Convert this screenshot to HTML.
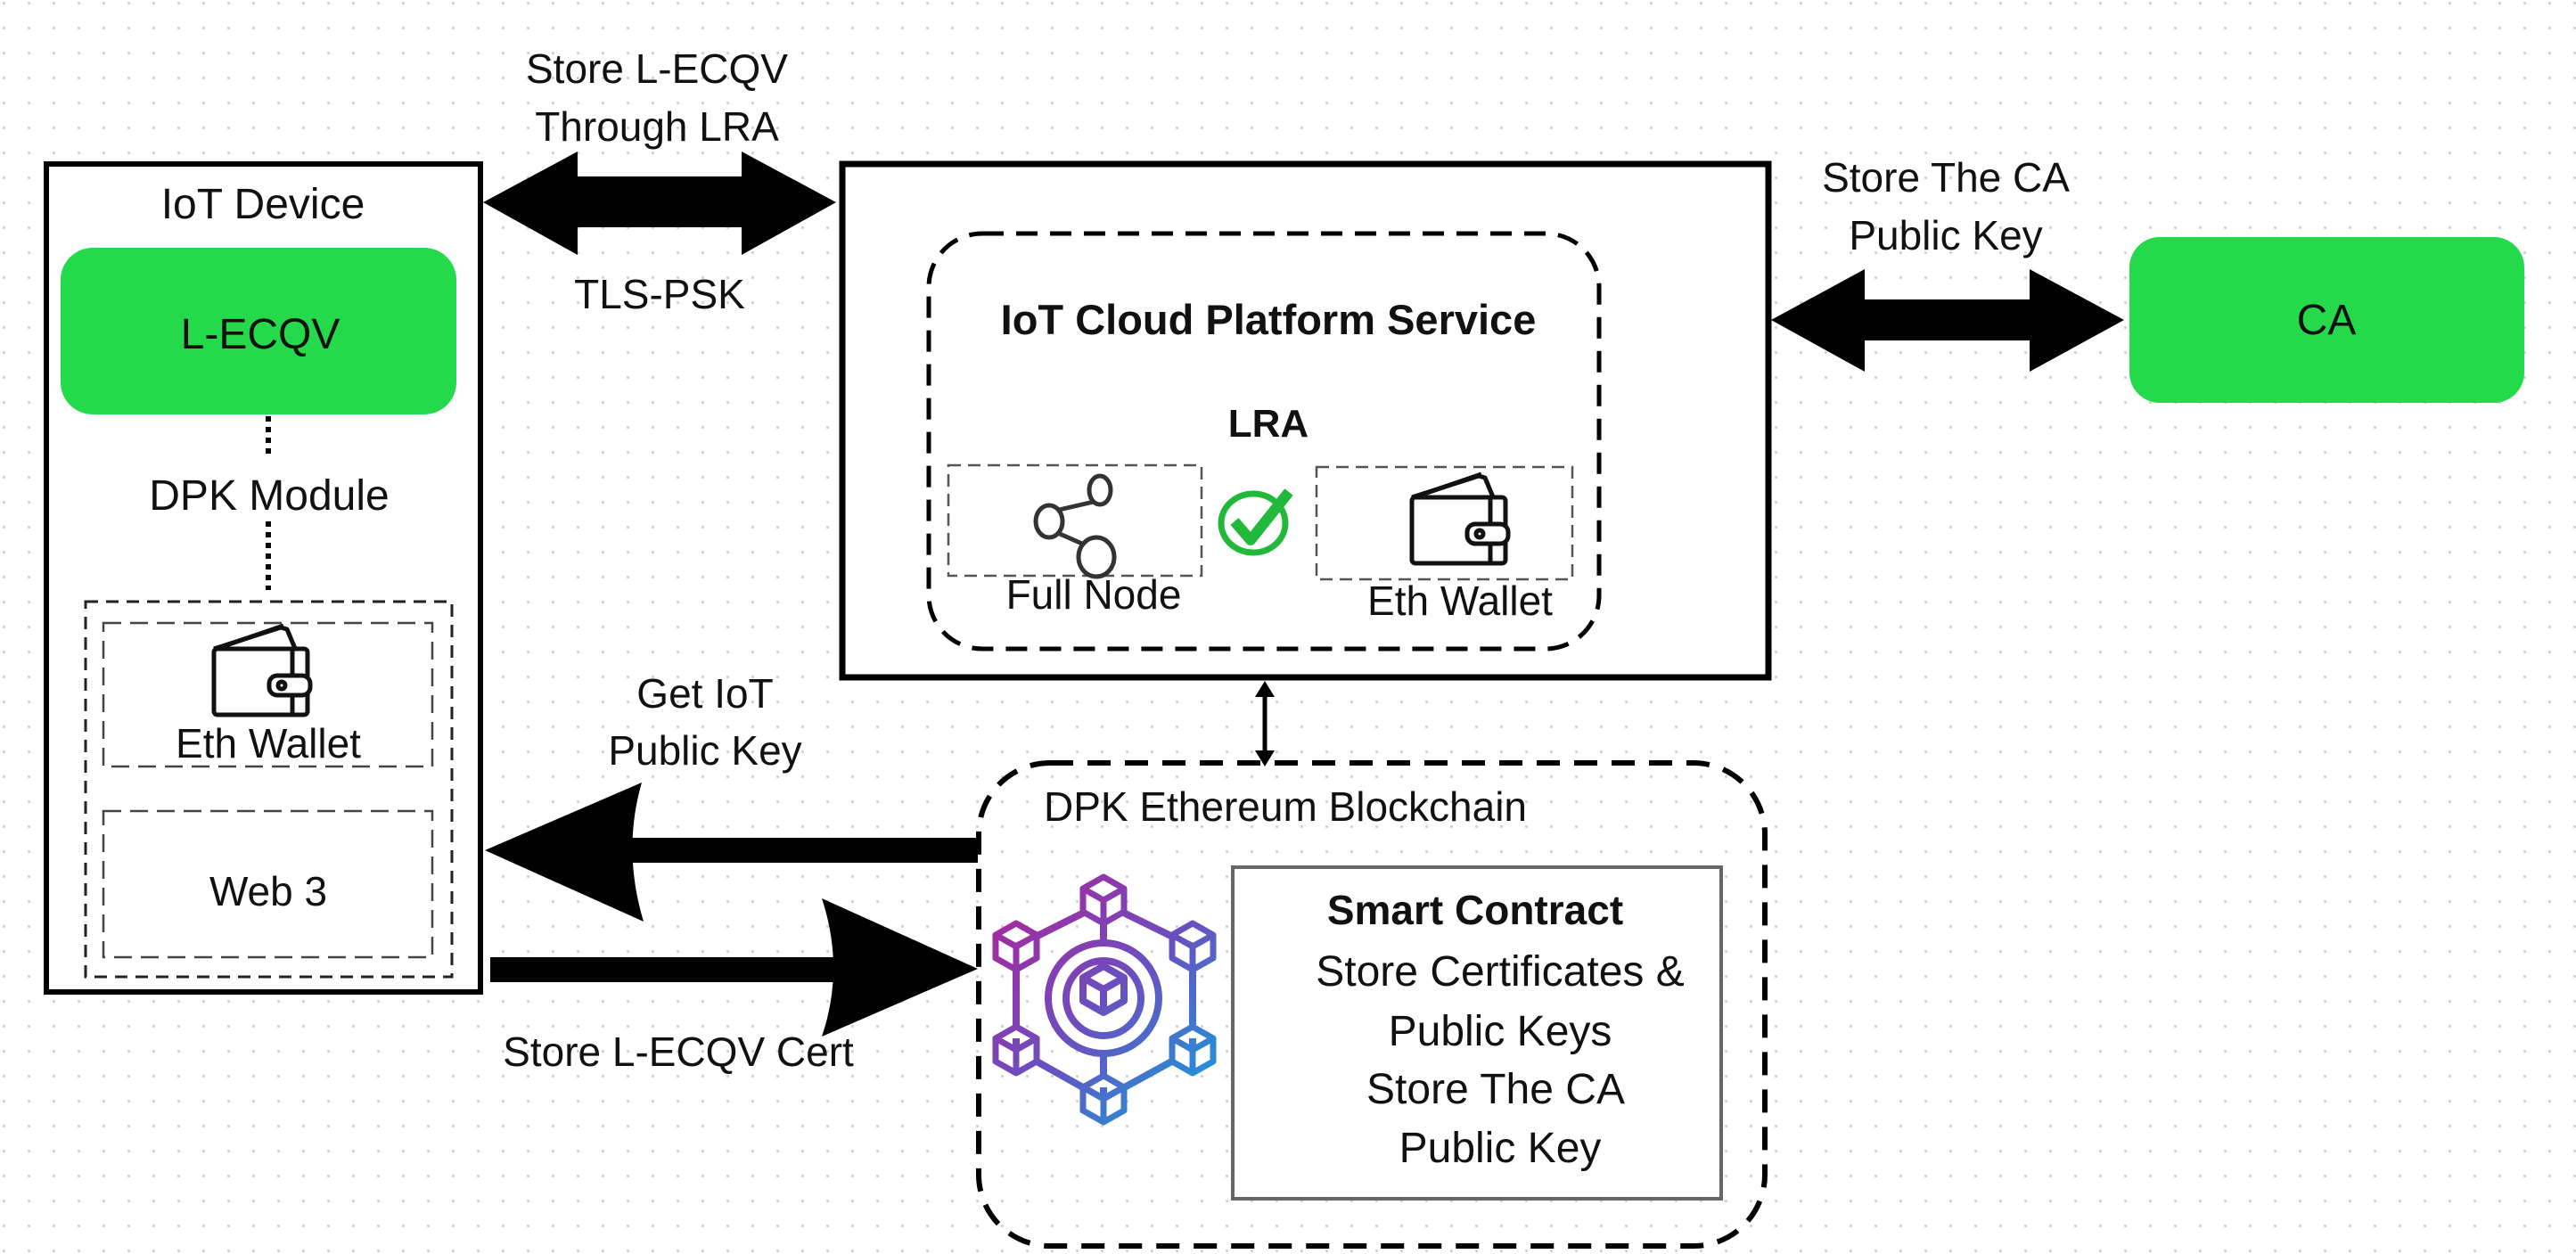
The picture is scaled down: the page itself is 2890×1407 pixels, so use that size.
<!DOCTYPE html>
<html><head><meta charset="utf-8"><style>
html,body{margin:0;padding:0;background:#fff;}
svg{display:block;}
text{font-family:"Liberation Sans",sans-serif;fill:#111;}
</style></head><body>
<svg width="2890" height="1407" viewBox="0 0 2890 1407" xmlns="http://www.w3.org/2000/svg">
<defs>
<pattern id="dots" x="3" y="2" width="28" height="28" patternUnits="userSpaceOnUse">
<circle cx="1.5" cy="1.5" r="1.6" fill="#cfcfd6"/>
</pattern>
<linearGradient id="g" gradientUnits="userSpaceOnUse" x1="1110" y1="1000" x2="1370" y2="1260">
<stop offset="0" stop-color="#b0239a"/>
<stop offset="0.5" stop-color="#6a4fc0"/>
<stop offset="1" stop-color="#0aa8e0"/>
</linearGradient>
<g id="wallet" fill="none" stroke="#111" stroke-width="5" stroke-linejoin="round">
<rect x="0" y="0" width="105" height="74" rx="4"/>
<line x1="88" y1="0" x2="88" y2="74"/>
<path d="M0 0 L75 -24 L82 -22 L92 2"/>
<path d="M8 -2 L78 -26"/>
<rect x="62" y="30" width="46" height="22" rx="9" fill="#fff"/>
<circle cx="76" cy="41" r="4"/>
</g>
</defs>
<rect width="2890" height="1407" fill="#fff"/>
<rect width="2890" height="1407" fill="url(#dots)"/>

<!-- IoT Device -->
<rect x="52" y="184" width="487" height="929" fill="#fff" stroke="#000" stroke-width="6"/>
<text x="295" y="245" font-size="48" text-anchor="middle">IoT Device</text>
<rect x="68" y="278" width="444" height="187" rx="36" fill="#24d94a"/>
<text x="292" y="391" font-size="48" text-anchor="middle">L-ECQV</text>
<line x1="301" y1="467" x2="301" y2="515" stroke="#000" stroke-width="6" stroke-dasharray="6,6"/>
<line x1="301" y1="585" x2="301" y2="662" stroke="#000" stroke-width="6" stroke-dasharray="6,6"/>
<text x="302" y="572" font-size="48" text-anchor="middle">DPK Module</text>
<rect x="96" y="675" width="411" height="421" fill="none" stroke="#222" stroke-width="3" stroke-dasharray="14,9"/>
<rect x="116" y="699" width="369" height="161" fill="none" stroke="#444" stroke-width="2.5" stroke-dasharray="20,10"/>
<use href="#wallet" x="240" y="728"/>
<text x="301" y="850" font-size="46" text-anchor="middle">Eth Wallet</text>
<rect x="116" y="910" width="369" height="164" fill="none" stroke="#444" stroke-width="2.5" stroke-dasharray="20,10"/>
<text x="301" y="1016" font-size="46" text-anchor="middle">Web 3</text>

<!-- top arrow -->
<polygon points="542,227 648,170 648,198 832,198 832,170 938,227 832,286 832,255 648,255 648,286" fill="#000"/>
<text x="737" y="93" font-size="46" text-anchor="middle">Store L-ECQV</text>
<text x="737" y="158" font-size="46" text-anchor="middle">Through LRA</text>
<text x="740" y="346" font-size="46" text-anchor="middle">TLS-PSK</text>

<!-- Cloud box -->
<rect x="945" y="184" width="1039" height="576" fill="#fff" stroke="#000" stroke-width="7"/>
<rect x="1042" y="262" width="752" height="466" rx="60" fill="none" stroke="#000" stroke-width="5" stroke-dasharray="24,14"/>
<text x="1423" y="375" font-size="47" font-weight="bold" text-anchor="middle">IoT Cloud Platform Service</text>
<text x="1423" y="490" font-size="44" font-weight="bold" text-anchor="middle">LRA</text>
<rect x="1064" y="522" width="284" height="124" fill="none" stroke="#555" stroke-width="2.5" stroke-dasharray="14,8"/>
<g fill="none" stroke="#333" stroke-width="5">
<ellipse cx="1234" cy="550" rx="12" ry="16"/>
<ellipse cx="1177" cy="585" rx="15" ry="18"/>
<ellipse cx="1230" cy="625" rx="20" ry="22"/>
<line x1="1227" y1="563" x2="1188" y2="572"/>
<line x1="1189" y1="599" x2="1214" y2="610"/>
</g>
<text x="1227" y="683" font-size="46" text-anchor="middle">Full Node</text>
<ellipse cx="1406" cy="587" rx="36" ry="33" fill="none" stroke="#22b83a" stroke-width="7"/>
<path d="M1385 585 L1403 606 L1446 552" fill="none" stroke="#22b83a" stroke-width="12" stroke-linejoin="round"/>
<rect x="1477" y="524" width="287" height="126" fill="none" stroke="#555" stroke-width="2.5" stroke-dasharray="14,8"/>
<use href="#wallet" x="1584" y="558"/>
<text x="1638" y="690" font-size="46" text-anchor="middle">Eth Wallet</text>

<!-- CA arrow -->
<polygon points="1987,359 2092,302 2092,336 2277,336 2277,302 2383,359 2277,417 2277,382 2092,382 2092,417" fill="#000"/>
<text x="2183" y="215" font-size="46" text-anchor="middle">Store The CA</text>
<text x="2183" y="280" font-size="46" text-anchor="middle">Public Key</text>
<rect x="2389" y="266" width="443" height="186" rx="34" fill="#24d94a"/>
<text x="2610" y="375" font-size="48" text-anchor="middle">CA</text>

<!-- vertical small arrow -->
<line x1="1419" y1="775" x2="1419" y2="850" stroke="#000" stroke-width="5"/>
<polygon points="1408,782 1419,764 1430,782" fill="#000"/>
<polygon points="1408,842 1419,860 1430,842" fill="#000"/>

<!-- DPK blockchain -->
<rect x="1098" y="856" width="882" height="542" rx="80" fill="none" stroke="#000" stroke-width="6" stroke-dasharray="26,16"/>
<text x="1442" y="921" font-size="46" text-anchor="middle">DPK Ethereum Blockchain</text>
<rect x="1383" y="973" width="548" height="372" fill="#fff" stroke="#666" stroke-width="4"/>
<text x="1655" y="1037" font-size="46" font-weight="bold" text-anchor="middle">Smart Contract</text>
<text x="1683" y="1106" font-size="48" text-anchor="middle">Store Certificates &amp;</text>
<text x="1683" y="1173" font-size="48" text-anchor="middle">Public Keys</text>
<text x="1678" y="1238" font-size="48" text-anchor="middle">Store The CA</text>
<text x="1683" y="1304" font-size="48" text-anchor="middle">Public Key</text>

<!-- blockchain icon -->
<g fill="none" stroke="url(#g)" stroke-width="8" stroke-linejoin="round">
<polygon points="1238,1013 1338,1062 1338,1178 1238,1233 1140,1178 1140,1062"/>
<line x1="1238" y1="1013" x2="1238" y2="1060"/>
<line x1="1238" y1="1180" x2="1238" y2="1233"/>
<circle cx="1238" cy="1120" r="62" fill="#fff"/>
<circle cx="1238" cy="1120" r="42"/>
<g id="cubes" fill="#fff">
<path d="M1238 1122 m0 -26 l23 13 l0 26 l-23 13 l-23 -13 l0 -26 z M1215 1109 l23 13 l23 -13 M1238 1122 l0 26" transform="translate(0,-12)"/>
</g>
</g>
<g fill="#fff" stroke="url(#g)" stroke-width="7" stroke-linejoin="round">
<path d="M1238 984 l23 13 l0 26 l-23 13 l-23 -13 l0 -26 z M1215 997 l23 13 l23 -13 M1238 1010 l0 26"/>
<path d="M1338 1036 l23 13 l0 26 l-23 13 l-23 -13 l0 -26 z M1315 1049 l23 13 l23 -13 M1338 1062 l0 26"/>
<path d="M1338 1152 l23 13 l0 26 l-23 13 l-23 -13 l0 -26 z M1315 1165 l23 13 l23 -13 M1338 1178 l0 26"/>
<path d="M1238 1207 l23 13 l0 26 l-23 13 l-23 -13 l0 -26 z M1215 1220 l23 13 l23 -13 M1238 1233 l0 26"/>
<path d="M1140 1152 l23 13 l0 26 l-23 13 l-23 -13 l0 -26 z M1117 1165 l23 13 l23 -13 M1140 1178 l0 26"/>
<path d="M1140 1036 l23 13 l0 26 l-23 13 l-23 -13 l0 -26 z M1117 1049 l23 13 l23 -13 M1140 1062 l0 26"/>
</g>

<!-- Get IoT Public key arrow (left) -->
<path d="M544 954 L720 878 Q698 954 722 1034 Z" fill="#000"/>
<rect x="705" y="940" width="392" height="28" fill="#000"/>
<text x="791" y="794" font-size="46" text-anchor="middle">Get IoT</text>
<text x="791" y="858" font-size="46" text-anchor="middle">Public Key</text>

<!-- Store cert arrow (right) -->
<rect x="550" y="1074" width="390" height="28" fill="#000"/>
<path d="M1097 1087 L922 1008 Q948 1087 922 1163 Z" fill="#000"/>
<text x="761" y="1196" font-size="46" text-anchor="middle">Store L-ECQV Cert</text>
</svg>
</body></html>
